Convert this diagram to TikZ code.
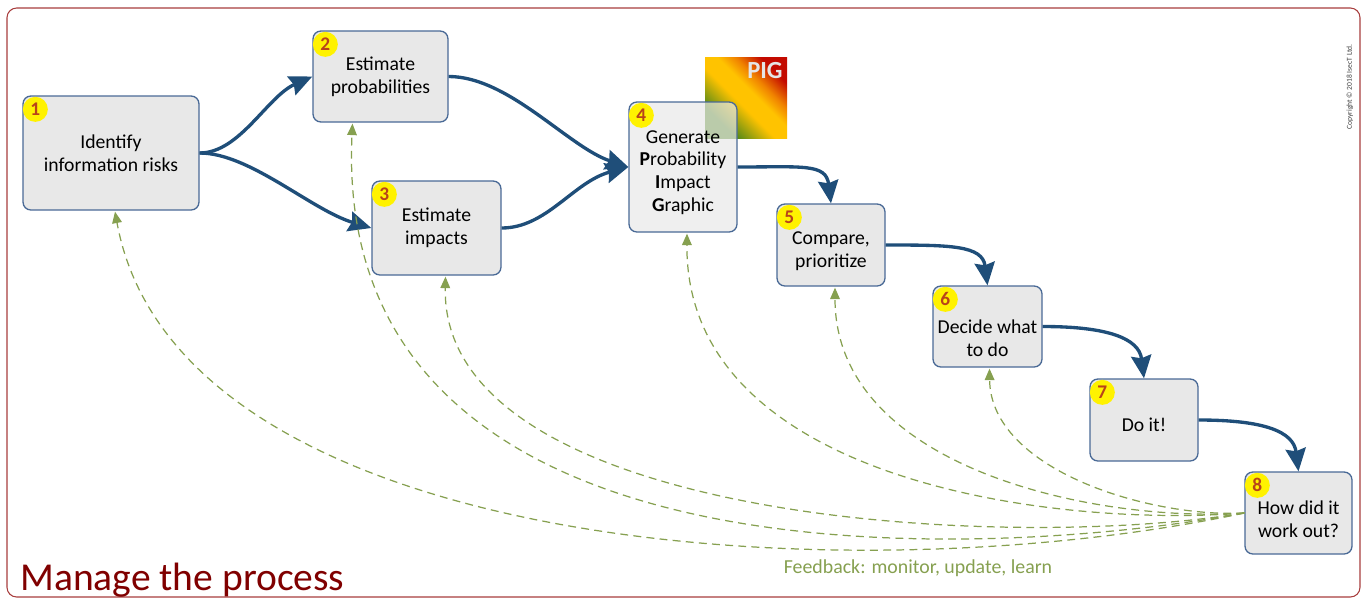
\documentclass[tikz,border=0pt]{standalone}
\usepackage{fontspec}
\setmainfont{Carlito}
\usetikzlibrary{arrows.meta}
\newlength{\px}\setlength{\px}{0.02cm}
\definecolor{flowblue}{RGB}{31,78,121}
\definecolor{boxline}{RGB}{74,106,150}
\definecolor{boxfill}{RGB}{232,232,232}
\definecolor{fbgreen}{RGB}{134,160,80}
\definecolor{badgenum}{RGB}{184,67,26}
\definecolor{framered}{RGB}{168,62,62}
\definecolor{titlered}{RGB}{128,0,0}
\definecolor{piggreen}{RGB}{80,135,25}
\definecolor{piggold}{RGB}{255,195,0}
\definecolor{pigorange}{RGB}{240,130,0}
\definecolor{pigred}{RGB}{195,10,0}
\pgfdeclarehorizontalshading{pigshade}{100bp}{color(0bp)=(piggreen); color(28bp)=(piggreen); color(45bp)=(piggold); color(55bp)=(piggold); color(63bp)=(pigorange); color(74bp)=(pigred); color(100bp)=(pigred)}
\tikzset{
  stepbox/.style={draw=boxline, fill=boxfill, line width=0.75pt, rounded corners=4.5pt, inner sep=0pt},
  steptext/.style={align=center, font=\fontsize{11.2}{12.9}\selectfont},
  badge/.style={circle, fill=yellow, inner sep=0pt, minimum size=25\px, text=badgenum, font=\bfseries\fontsize{11}{11}\selectfont},
  flow/.style={flowblue, line width=1.9pt, -{Stealth[length=13pt,width=11.5pt,inset=1.5pt]}},
  feedback/.style={fbgreen, line width=0.7pt, dash pattern=on 4.5pt off 3pt, -{Triangle[length=6.5pt,width=5.5pt]}}
}
\begin{document}
\begin{tikzpicture}[x=0.02cm, y=-0.02cm]
  \useasboundingbox (0,0) rectangle (1367,599);
  % frame
  \draw[framered, line width=0.6pt, rounded corners=5.5pt] (7,8) rectangle (1360,597);
  \node[rotate=90, text=black!75, font=\fontsize{4.3}{5}\selectfont] (copy) at (1350,87) {Copyright © 2018 IsecT Ltd.};
  \node[anchor=base west, inner sep=0pt, text=titlered, font=\fontsize{22.5}{26}\selectfont] (title) at (20,590) {Manage the process};
  % PIG square
  \shade[shading=pigshade, shading angle=45] (705,57) rectangle (787,138);
  \node[text=white!90!black, font=\bfseries\fontsize{14}{14}\selectfont] (pig) at (765,71) {PIG};
  % steps
  \node[stepbox, minimum width=176\px, minimum height=114\px] (s1) at (111,153) {};
  \node[stepbox, minimum width=135\px, minimum height=91\px] (s2) at (380.5,76.5) {};
  \node[stepbox, minimum width=129\px, minimum height=94\px] (s3) at (436.5,228) {};
  \node[stepbox, minimum width=108\px, minimum height=130\px, fill opacity=0.7] (s4) at (683,167) {};
  \node[stepbox, minimum width=108\px, minimum height=82\px] (s5) at (831,245) {};
  \node[stepbox, minimum width=109\px, minimum height=81\px] (s6) at (987.5,326.5) {};
  \node[stepbox, minimum width=108\px, minimum height=82\px] (s7) at (1144,420) {};
  \node[stepbox, minimum width=107\px, minimum height=82\px] (s8) at (1298.5,513) {};
  % step texts
  \node[steptext] (t1) at (s1.center) {Identify\\information risks};
  \node[steptext] (t2) at (s2.center) {Estimate\\probabilities};
  \node[steptext] (t3) at (s3.center) {Estimate\\impacts};
  \node[steptext] (t4) at ([yshift=-5.5\px]s4.center) {Generate\\\textbf{P}robability\\\textbf{I}mpact\\\textbf{G}raphic};
  \node[steptext] (t5) at ([yshift=-6.5\px]s5.center) {Compare,\\prioritize};
  \node[steptext] (t6) at ([yshift=-12\px]s6.center) {Decide what\\to do};
  \node[steptext] (t7) at ([yshift=-5\px]s7.center) {Do it!};
  \node[steptext] (t8) at ([yshift=-6\px]s8.center) {How did it\\work out?};
  % badges
  \foreach \i in {1,...,8}
    \node[badge] (n\i) at ([shift={(13,14)}]s\i.north west) {\i};
  % main flow
  \draw[flow] (s1.east) .. controls +(40,0) and +(-45,20) .. (s2.west);
  \draw[flow] (s1.east) .. controls +(50,0) and +(-60,-18) .. (s3.west);
  \draw[flow] (s2.east) .. controls +(60,0) and +(-60,-20) .. (s4.west);
  \draw[flow] (s3.east) .. controls +(45,0) and +(-55,15) .. (s4.west);
  \draw[flow] (s4.east) .. controls +(65,0) and +(-5,-40) .. (s5.north);
  \draw[flow] (s5.east) .. controls +(65,0) and +(-5,-40) .. (s6.north);
  \draw[flow] (s6.east) .. controls +(65,0) and +(-5,-40) .. (s7.north);
  \draw[flow] (s7.east) .. controls +(65,0) and +(-5,-40) .. (s8.north);
  % feedback
  \draw[feedback] (s8.west) .. controls +(-400,85) and +(62,340) .. ([shift={(4,1)}]s1.south);
  \draw[feedback] (s8.west) .. controls +(-245,45) and +(-22,476) .. ([shift={(-28,1)}]s2.south);
  \draw[feedback] (s8.west) .. controls +(-245,40) and +(-5,243) .. ([shift={(9,1)}]s3.south);
  \draw[feedback] (s8.west) .. controls +(-195,15) and +(-2,246) .. ([shift={(4,1)}]s4.south);
  \draw[feedback] (s8.west) .. controls +(-145,10) and +(0,182) .. ([shift={(4,1)}]s5.south);
  \draw[feedback] (s8.west) .. controls +(-95,5) and +(1,101) .. ([shift={(2,1)}]s6.south);
  \node[text=fbgreen, font=\fontsize{11.3}{13}\selectfont] (fb) at (918,568) {Feedback: monitor, update, learn};
\end{tikzpicture}
\end{document}
